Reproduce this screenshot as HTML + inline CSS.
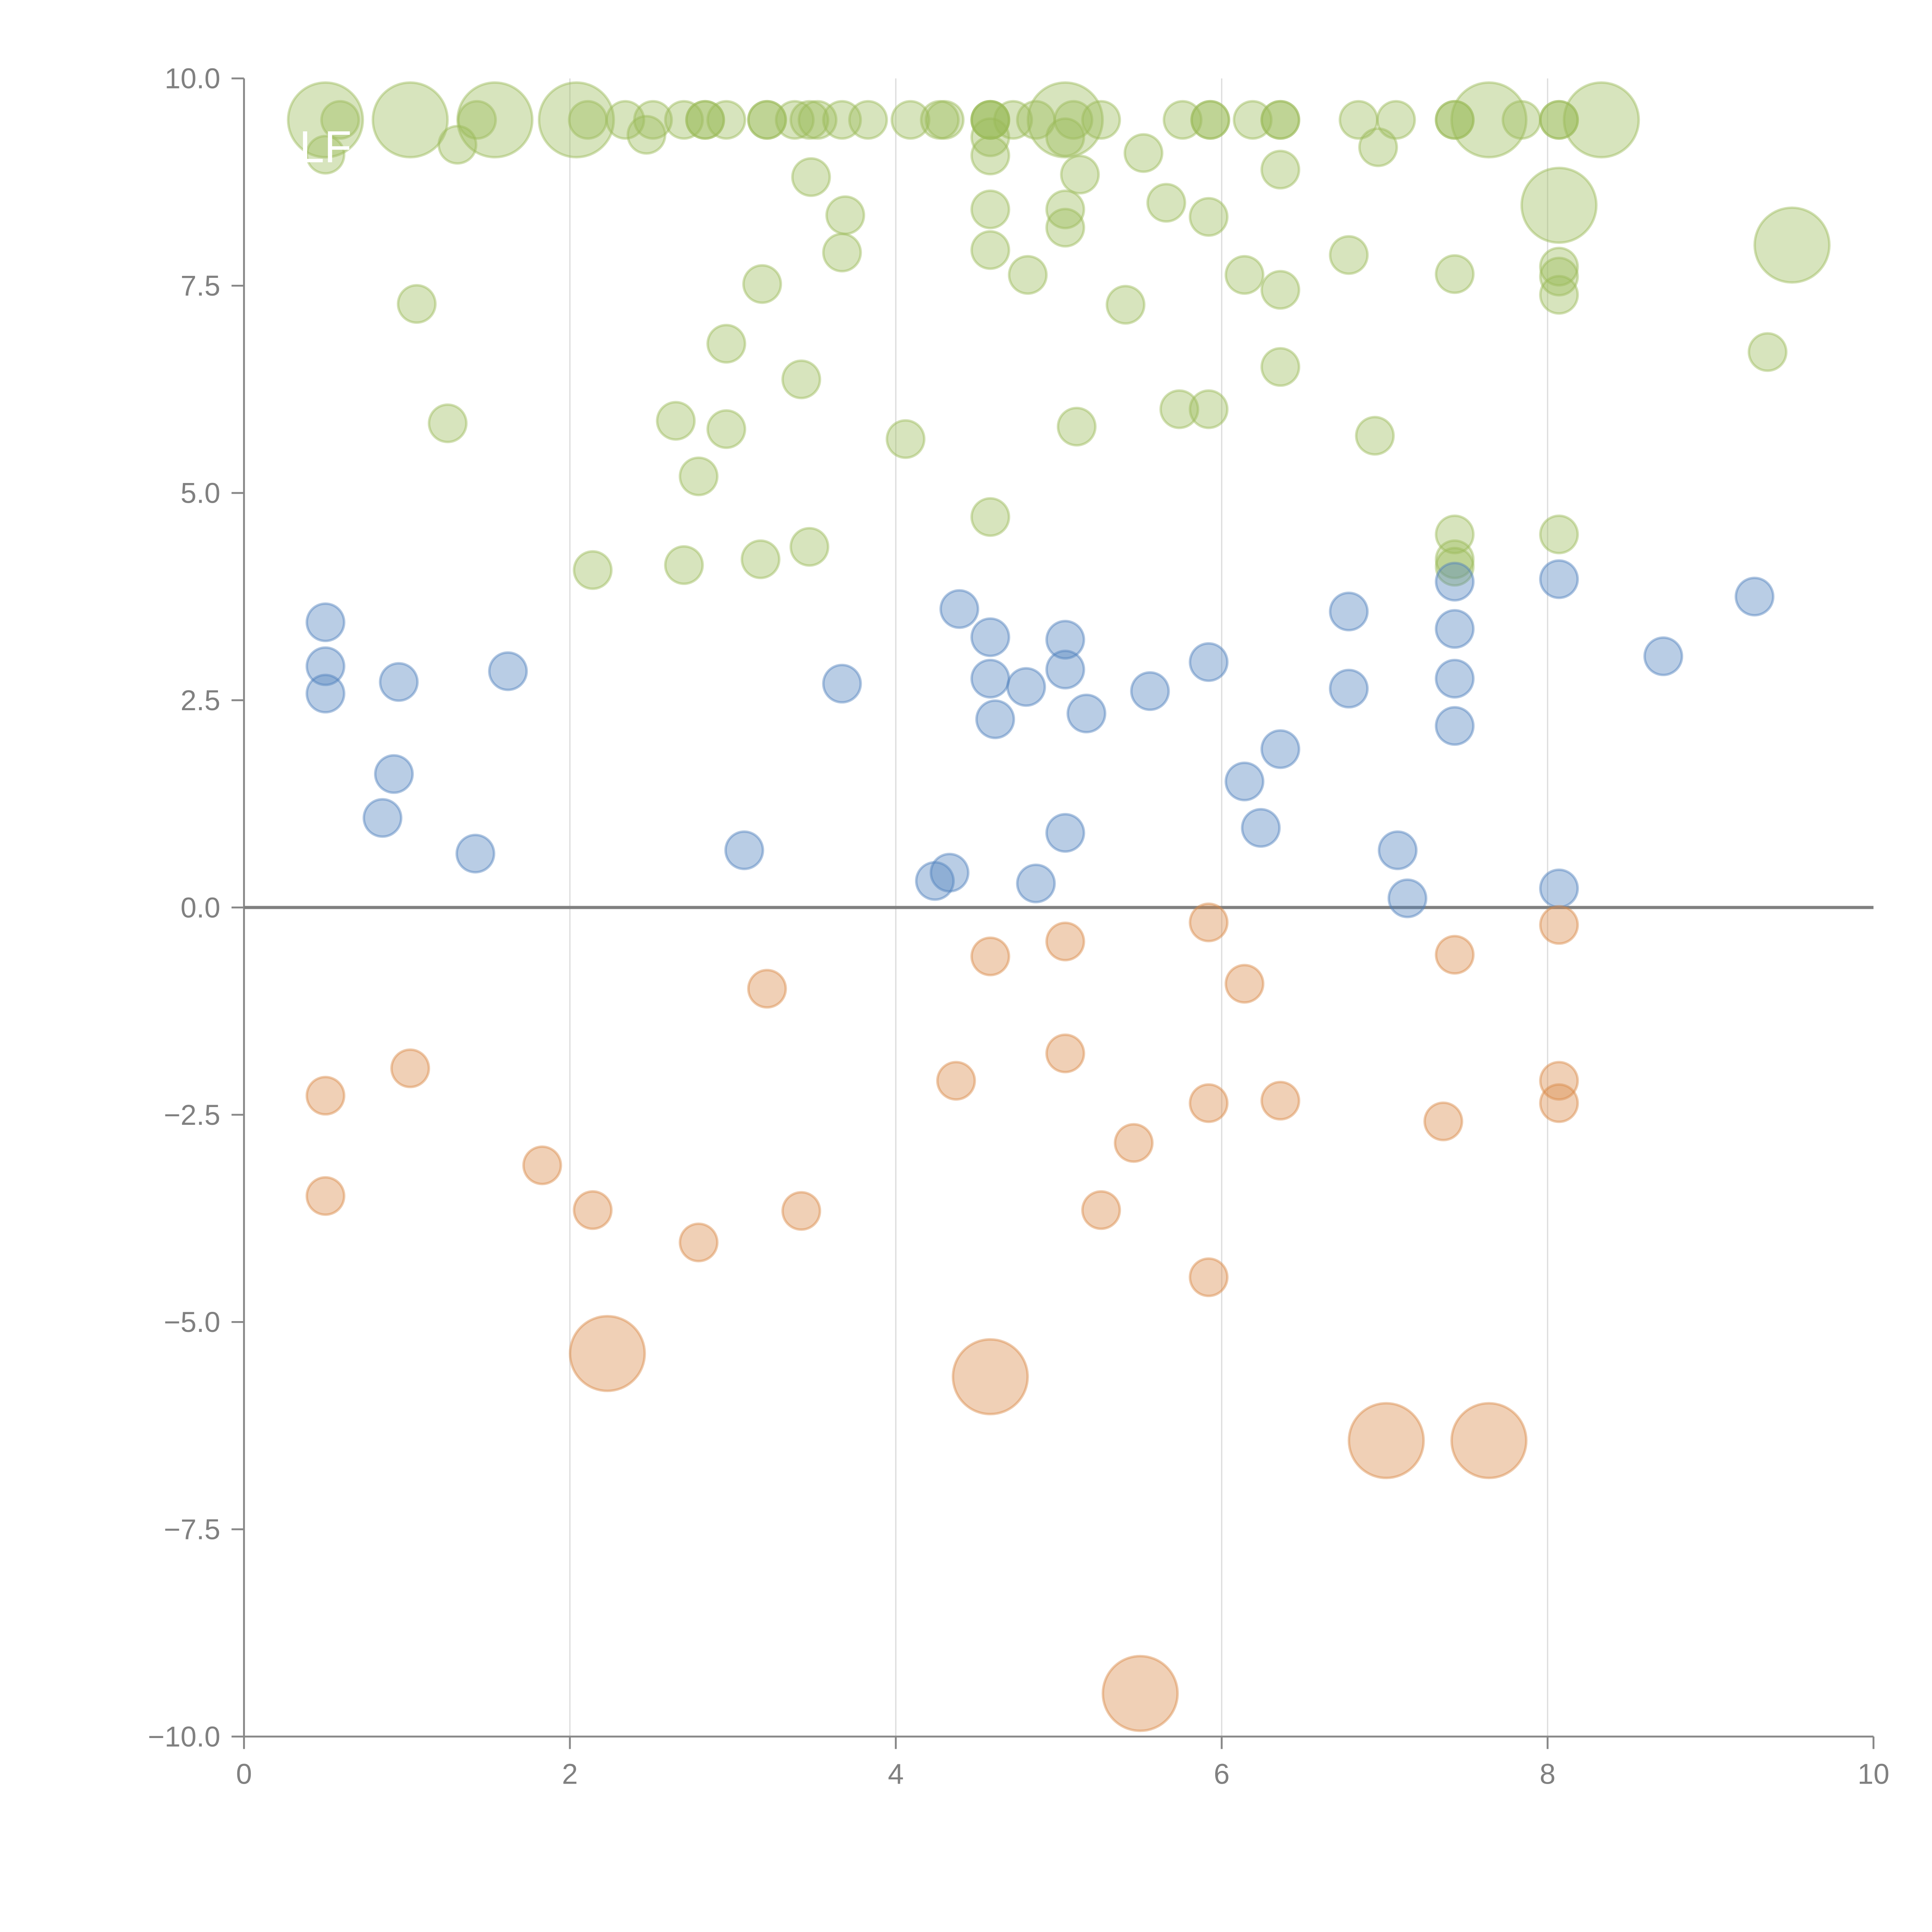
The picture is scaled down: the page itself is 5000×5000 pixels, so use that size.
<!DOCTYPE html>
<html><head><meta charset="utf-8"><style>
html,body{margin:0;padding:0;background:#fff}
svg{display:block}
text{font-family:"Liberation Sans",sans-serif}
</style></head>
<body>
<svg id="chart" width="5000" height="5000" viewBox="0 0 1552 1552" xmlns="http://www.w3.org/2000/svg">
<g id="grid"></g>
<g id="axes"></g>
<g id="marks"></g>
</svg>
<script>
const xTicks=[0,2,4,6,8,10];
const yTicks=[10,7.5,5,2.5,0,-2.5,-5,-7.5,-10];
const yTickLabels=["10.0","7.5","5.0","2.5","0.0","−2.5","−5.0","−7.5","−10.0"];
const greenX=[0.50,0.59,1.02,1.43,1.54,2.04,2.11,2.34,2.51,2.70,2.83,2.83,2.96,3.21,3.21,3.38,3.47,3.52,3.67,3.83,4.09,4.27,4.30,4.58,4.58,4.58,4.72,4.86,5.04,5.09,5.26,5.76,5.93,5.93,6.19,6.36,6.36,6.84,7.07,7.43,7.43,7.64,7.84,8.07,8.07,8.33,
0.50,1.31,2.47,3.48,3.69,3.67,3.18,2.96,3.42,2.65,2.96,2.79,2.14,2.70,3.17,3.47,4.06,4.58,4.58,4.58,4.58,4.58,4.81,5.04,5.04,5.04,5.13,5.11,5.41,5.52,5.66,5.92,5.74,5.92,6.14,6.36,6.36,6.36,6.78,6.96,6.94,7.43,7.43,7.43,7.43,8.07,8.07,8.07,8.07,8.07,9.50,9.35,1.06,1.25];
const greenY=[9.5,9.5,9.5,9.5,9.5,9.5,9.5,9.5,9.5,9.5,9.5,9.5,9.5,9.5,9.5,9.5,9.5,9.5,9.5,9.5,9.5,9.5,9.5,9.5,9.5,9.5,9.5,9.5,9.5,9.5,9.5,9.5,9.5,9.5,9.5,9.5,9.5,9.5,9.5,9.5,9.5,9.5,9.5,9.5,9.5,9.5,
9.08,9.20,9.32,8.81,8.35,7.90,7.52,6.80,6.37,5.87,5.77,5.20,4.07,4.13,4.20,4.35,5.65,4.71,8.42,9.07,9.29,7.93,7.63,8.42,8.20,9.29,8.84,5.80,7.27,9.10,8.50,8.33,6.01,6.01,7.63,8.90,7.45,6.52,7.87,9.17,5.69,7.64,4.50,4.20,4.11,8.47,7.73,7.61,7.39,4.50,7.99,6.70,7.28,5.84];
const greenS=[4,1,4,1,4,4,1,1,1,1,1,1,1,1,1,1,1,1,1,1,1,1,1,1,1,1,1,1,4,1,1,1,1,1,1,1,1,1,1,1,1,4,1,1,1,4,
1,1,1,1,1,1,1,1,1,1,1,1,1,1,1,1,1,1,1,1,1,1,1,1,1,1,1,1,1,1,1,1,1,1,1,1,1,1,1,1,1,1,1,1,1,4,1,1,1,1,4,1,1,1];
const blueX=[0.50,0.50,0.50,0.95,1.62,0.92,0.85,1.42,3.07,3.67,4.39,4.58,4.58,4.61,4.80,5.04,5.04,5.17,5.56,5.92,6.14,6.24,6.36,5.04,4.24,4.33,4.86,6.78,6.78,7.08,7.14,7.43,7.43,7.43,7.43,8.07,8.07,8.71,9.27];
const blueY=[3.44,2.91,2.58,2.72,2.85,1.61,1.08,0.65,0.69,2.70,3.60,3.26,2.76,2.27,2.66,3.23,2.87,2.34,2.61,2.96,1.52,0.96,1.91,0.90,0.32,0.42,0.29,3.57,2.64,0.69,0.11,3.93,3.36,2.76,2.19,3.96,0.23,3.03,3.75];
const orangeX=[0.50,0.50,1.02,1.83,2.14,2.79,3.21,3.42,4.37,4.58,5.04,5.04,5.26,5.46,5.92,5.92,5.92,6.14,6.36,7.36,7.43,8.07,8.07,8.07,2.23,4.58,7.01,7.64,5.50];
const orangeY=[-2.27,-3.48,-1.94,-3.11,-3.65,-4.04,-0.98,-3.66,-2.09,-0.59,-0.41,-1.76,-3.65,-2.84,-0.18,-2.36,-4.46,-0.92,-2.33,-2.58,-0.57,-0.21,-2.09,-2.36,-5.38,-5.66,-6.43,-6.43,-9.48];
const orangeS=[1,1,1,1,1,1,1,1,1,1,1,1,1,1,1,1,1,1,1,1,1,1,1,1,4,4,4,4,4];

const NS="http://www.w3.org/2000/svg";
const X0=196,X1=1505,Y0=1395,Y1=63;
function sx(v){return X0+(v-0)/(10-0)*(X1-X0);}
function sy(v){return Y0-(v+10)/20*(Y0-Y1);}
function rad(s){return 15*Math.sqrt(s);}
function mk(tag,attrs,parent){const e=document.createElementNS(NS,tag);for(const k in attrs)e.setAttribute(k,attrs[k]);parent.appendChild(e);return e;}
const grid=document.getElementById('grid'),axes=document.getElementById('axes'),marks=document.getElementById('marks');
xTicks.forEach((t,i)=>{
  if(t>0&&t<10){const g=mk('line',{x1:sx(t),x2:sx(t),y1:Y1,y2:Y0,stroke:'#dcdcdc','stroke-width':1},grid);
  
  }
  const tk=mk('line',{x1:sx(t),x2:sx(t),y1:Y0,y2:Y0+10,stroke:'#888','stroke-width':1.5},axes);
  
  
  const lb=mk('text',{x:sx(t),y:Y0+38,'text-anchor':'middle','font-size':23,fill:'#808080'},axes);
  lb.textContent=String(t);
  
  
});
yTicks.forEach((t,i)=>{
  const tk=mk('line',{x1:X0-10,x2:X0,y1:sy(t),y2:sy(t),stroke:'#888','stroke-width':1.5},axes);
  
  
  const lb=mk('text',{x:X0-19,y:sy(t)+8,'text-anchor':'end','font-size':23,fill:'#808080'},axes);
  lb.textContent=yTickLabels[i];
  
  
});
const ya=mk('line',{x1:X0,x2:X0,y1:Y1,y2:Y0,stroke:'#888','stroke-width':1.5},axes);


const xa=mk('line',{x1:X0,x2:X1,y1:Y0,y2:Y0,stroke:'#888','stroke-width':1.5},axes);


const zl=mk('line',{x1:X0,x2:X1,y1:sy(0),y2:sy(0),stroke:'#808080','stroke-width':2.5},axes);



function series(xs,ys,ss,color,name){
  xs.forEach((x,i)=>{
    const c=mk('circle',{cx:sx(x),cy:sy(ys[i]),r:rad(ss?ss[i]:1),fill:color,'fill-opacity':0.4,stroke:color,'stroke-opacity':0.45,'stroke-width':2},marks);
    
    
  });
}
series(greenX,greenY,greenS,'#9bbb59','green-bubble');
series(blueX,blueY,null,'#4f81bd','blue-bubble');
series(orangeX,orangeY,orangeS,'#d98a48','orange-bubble');
const lf=mk('text',{x:sx(0.5),y:sy(9.5)+34,'text-anchor':'middle','font-size':36,fill:'#fff'},marks);
lf.textContent='LF';


</script>
</body></html>
